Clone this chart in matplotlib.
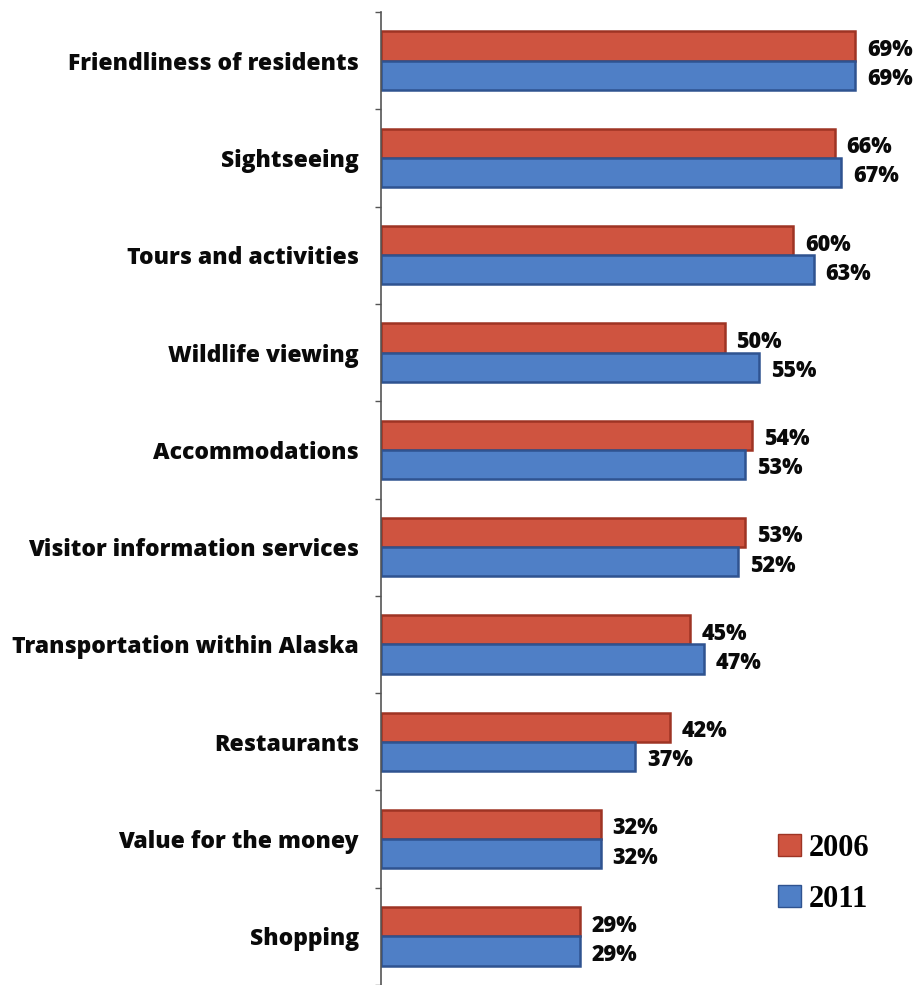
import numpy as np
import matplotlib.pyplot as plt
from matplotlib.patches import Patch

categories = ['Friendliness of residents', 'Sightseeing', 'Tours and activities',
              'Wildlife viewing', 'Accommodations', 'Visitor information services',
              'Transportation within Alaska', 'Restaurants', 'Value for the money',
              'Shopping']
vals_2006 = [69, 66, 60, 50, 54, 53, 45, 42, 32, 29]
vals_2011 = [69, 67, 63, 55, 53, 52, 47, 37, 32, 29]

red = '#CF5440'
red_edge = '#9E3424'
blue = '#4F7FC6'
blue_edge = '#2F5390'

fig = plt.figure(figsize=(9.17, 9.85), dpi=100)
ax = fig.add_axes([381 / 917, 0.0, 1 - 381 / 917, 1 - 12 / 985])

y = np.arange(len(categories))
h = 0.30
ax.barh(y - h / 2, vals_2006, height=h, color=red, edgecolor=red_edge, linewidth=1.8)
ax.barh(y + h / 2, vals_2011, height=h, color=blue, edgecolor=blue_edge, linewidth=1.8)

lab = dict(fontsize=15.5, fontweight='heavy', family='Open Sans', color='#0a0a0a', va='center')
for i in range(len(categories)):
    ax.text(vals_2006[i] + 1.7, y[i] - h / 2 + 0.04, f'{vals_2006[i]}%', **lab)
    ax.text(vals_2011[i] + 1.7, y[i] + h / 2 + 0.04, f'{vals_2011[i]}%', **lab)

ax.set_xlim(0, 78)
ax.set_ylim(len(categories) - 0.5, -0.5)
ax.set_yticks(y)
ax.set_yticklabels(categories, fontsize=16.5, fontweight='heavy', family='Open Sans', color='#0a0a0a')
ax.tick_params(axis='y', which='major', length=0, pad=16)
ax.set_yticks(np.arange(-0.5, len(categories) + 0.5, 1), minor=True)
ax.tick_params(axis='y', which='minor', length=4, width=1, color='#555555', direction='out')
ax.set_xticks([])
for s in ['top', 'right', 'bottom']:
    ax.spines[s].set_visible(False)
ax.spines['left'].set_color('#555555')
ax.spines['left'].set_linewidth(1.2)

handles = [Patch(facecolor=red, edgecolor=red_edge, label='2006'),
           Patch(facecolor=blue, edgecolor=blue_edge, label='2011')]
ax.legend(handles=handles, loc='lower left', bbox_to_anchor=(0.69, 0.045), frameon=False,
          prop={'family': 'Liberation Serif', 'weight': 'bold', 'size': 22},
          handlelength=0.75, handleheight=0.75, handletextpad=0.25, labelspacing=0.72)

fig.savefig('out.png', dpi=100, facecolor='white')
